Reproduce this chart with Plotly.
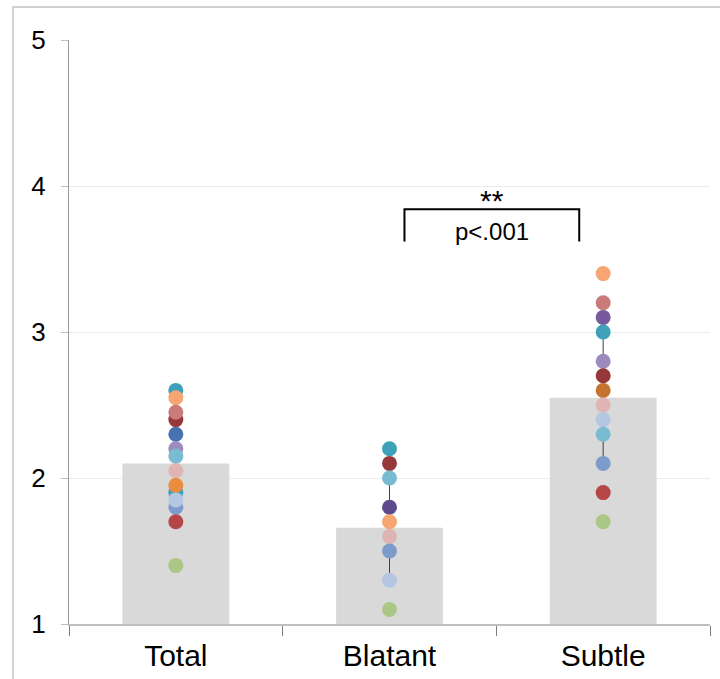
import plotly.graph_objects as go

# Group means (bars) and spread (thin vertical line behind the dots)
categories = ["Total", "Blatant", "Subtle"]
bar_means = [2.10, 1.66, 2.55]
bar_sd = [0.33, 0.35, 0.45]

palette = {
    "teal": "#3FA0BA",
    "peach": "#F7A572",
    "rose": "#CA7A78",
    "maroon": "#96383A",
    "blue": "#4673B0",
    "lilac": "#9E8BBD",
    "sky": "#79BBD2",
    "blush": "#DEB4B5",
    "orange": "#EB8D3E",
    "mist": "#B4C6E2",
    "periwinkle": "#7E9CCB",
    "red": "#B54646",
    "green": "#ABC785",
    "plum": "#5F4B8B",
    "purple": "#775A9E",
    "amber": "#C4742F",
}

# Individual scores per group (listed in drawing order)
total_vals = [2.60, 2.55, 2.40, 2.45, 2.30, 2.20, 2.15, 2.05, 1.90, 1.95, 1.80, 1.85, 1.70, 1.40]
total_cols = ["teal", "peach", "maroon", "rose", "blue", "lilac", "sky", "blush",
              "teal", "orange", "periwinkle", "mist", "red", "green"]

blatant_vals = [2.20, 2.10, 2.00, 1.80, 1.70, 1.60, 1.50, 1.30, 1.10]
blatant_cols = ["teal", "maroon", "sky", "plum", "peach", "blush", "periwinkle", "mist", "green"]

subtle_vals = [3.40, 3.20, 3.10, 3.00, 2.80, 2.70, 2.60, 2.50, 2.40, 2.30, 2.10, 1.90, 1.70]
subtle_cols = ["peach", "rose", "purple", "teal", "lilac", "maroon", "amber", "blush",
               "mist", "sky", "periwinkle", "red", "green"]

y_ticks = [1, 2, 3, 4, 5]

FONT = "Liberation Sans, Arial, sans-serif"

fig = go.Figure()

fig.add_trace(go.Bar(
    x=categories, y=bar_means, width=0.5,
    marker=dict(color="#D9D9D9", line=dict(width=0)),
    error_y=dict(type="data", array=bar_sd, visible=True,
                 color="#404040", thickness=1, width=0),
    showlegend=False, hoverinfo="skip",
))

for cat, vals, cols in [("Total", total_vals, total_cols),
                        ("Blatant", blatant_vals, blatant_cols),
                        ("Subtle", subtle_vals, subtle_cols)]:
    fig.add_trace(go.Scatter(
        x=[cat] * len(vals), y=vals, mode="markers",
        marker=dict(size=15, color=[palette[c] for c in cols], line=dict(width=0)),
        showlegend=False,
    ))

# Significance bracket between Blatant and Subtle
bx0, bx1, by0, by1 = 1.07, 1.888, 3.62, 3.84
fig.add_shape(type="path",
              path=f"M {bx0},{by0} L {bx0},{by1} L {bx1},{by1} L {bx1},{by0}",
              xref="x", yref="y", line=dict(color="black", width=2))
fig.add_annotation(x=(bx0 + bx1) / 2, y=3.90, text="**", showarrow=False,
                   font=dict(family=FONT, size=30, color="black"))
fig.add_annotation(x=(bx0 + bx1) / 2, y=3.69, text="p<.001", showarrow=False,
                   font=dict(family=FONT, size=24, color="black"))

# Light outer frame
fig.add_shape(type="rect", xref="paper", yref="paper",
              x0=-0.0874, x1=1.05, y0=-0.12, y1=1.0565,
              line=dict(color="#C4C4C4", width=1.5), layer="below")

fig.update_layout(
    width=720, height=679,
    margin=dict(l=69, r=10, t=40, b=55),
    paper_bgcolor="white", plot_bgcolor="white",
    bargap=0.5,
    font=dict(family=FONT, color="black"),
)

fig.update_xaxes(
    type="category", range=[-0.5, 2.5], automargin=False,
    showline=True, linecolor="#BFBFBF", linewidth=1.5,
    ticks="outside", tickson="boundaries", ticklen=10, tickcolor="#7F7F7F", tickwidth=1,
    tickfont=dict(family=FONT, size=30, color="black"),
    ticklabelstandoff=4,
    showgrid=False, zeroline=False,
)

fig.update_yaxes(
    range=[1, 5], tickvals=y_ticks, automargin=False,
    showline=True, linecolor="#9A9A9A", linewidth=1,
    ticks="outside", ticklen=7, tickcolor="#BFBFBF", tickwidth=1,
    tickfont=dict(family=FONT, size=26, color="black"),
    ticklabelstandoff=10,
    showgrid=True, gridcolor="#EBEBEB", gridwidth=1,
    zeroline=False,
)

fig.write_html("out.html")
